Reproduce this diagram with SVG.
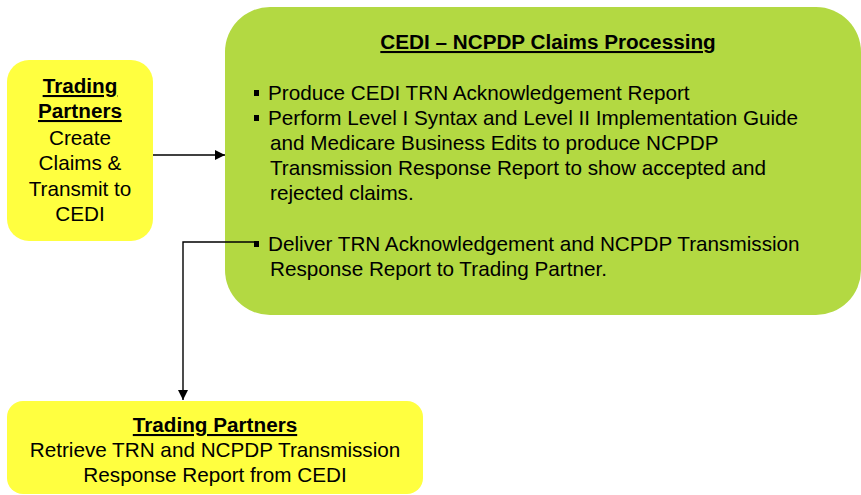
<svg xmlns="http://www.w3.org/2000/svg" width="861" height="495" viewBox="0 0 861 495">
<style>
.t{font-family:"Liberation Sans",Arial,sans-serif;font-size:20.7px;fill:#000}
.b{font-weight:bold;text-decoration:underline}
.m{text-anchor:middle}
.yel{fill:#FFFF40}
.grn{fill:#B3D942}
.ln{fill:none;stroke:#000;stroke-width:1.4}
</style>
<defs>
<marker id="ah" viewBox="0 0 10 10" refX="10" refY="5" markerWidth="10" markerHeight="10" markerUnits="userSpaceOnUse" orient="auto">
<path d="M0,0 L10,5 L0,10 Z" fill="#000"/>
</marker>
</defs>
<rect width="861" height="495" fill="#fff"/>
<g id="node-trading-create">
<rect class="yel" x="7" y="60" width="146" height="181" rx="22"/>
<text class="t b m" x="80" y="93">Trading</text>
<text class="t b m" x="80" y="118">Partners</text>
<text class="t m" x="80" y="145">Create</text>
<text class="t m" x="80" y="170">Claims &amp;</text>
<text class="t m" x="80" y="196">Transmit to</text>
<text class="t m" x="80" y="221">CEDI</text>
</g>
<g id="node-cedi">
<rect class="grn" x="225" y="7" width="636" height="308" rx="45"/>
<text class="t b m" x="548" y="49">CEDI – NCPDP Claims Processing</text>
<rect x="254" y="90" width="5" height="6"/>
<text class="t" x="268" y="100">Produce CEDI TRN Acknowledgement Report</text>
<rect x="254" y="115" width="5" height="6"/>
<text class="t" x="268" y="125">Perform Level I Syntax and Level II Implementation Guide</text>
<text class="t" x="270" y="150">and Medicare Business Edits to produce NCPDP</text>
<text class="t" x="270" y="175">Transmission Response Report to show accepted and</text>
<text class="t" x="270" y="200">rejected claims.</text>
<rect x="254" y="241" width="5" height="6"/>
<text class="t" x="268" y="251">Deliver TRN Acknowledgement and NCPDP Transmission</text>
<text class="t" x="270" y="276">Response Report to Trading Partner.</text>
</g>
<g id="node-trading-retrieve">
<rect class="yel" x="7" y="401" width="416" height="93" rx="16"/>
<text class="t b m" x="215" y="432">Trading Partners</text>
<text class="t m" x="215" y="457">Retrieve TRN and NCPDP Transmission</text>
<text class="t m" x="215" y="482">Response Report from CEDI</text>
</g>
<g id="connectors">
<path class="ln" d="M153,155 H225" marker-end="url(#ah)"/>
<path class="ln" d="M255,242 H183 V400" marker-end="url(#ah)"/>
</g>
</svg>
